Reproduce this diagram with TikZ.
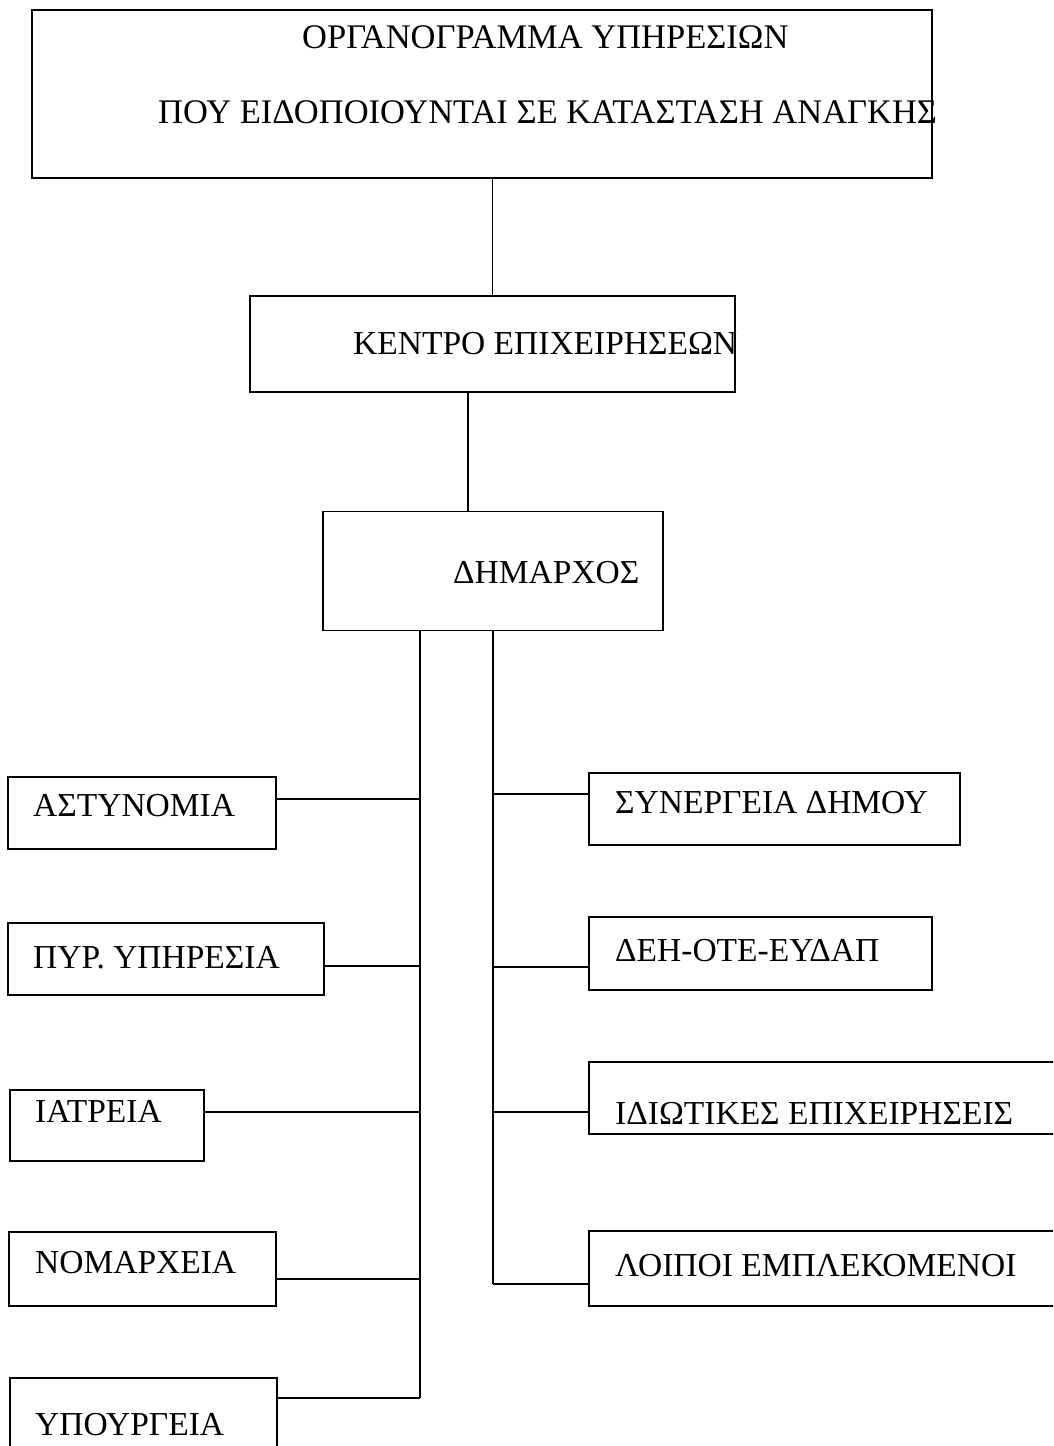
\documentclass[tikz,border=0pt]{standalone}
\usepackage{fontspec}
\setmainfont{Liberation Serif}
\begin{document}
\begin{tikzpicture}[x=1pt,y=-1pt,
  box/.style={draw=black,line width=1.6pt,rectangle,inner sep=0pt},
  lbl/.style={anchor=base west,inner sep=0pt,font=\fontsize{33.5}{40}\selectfont},
  ttl/.style={anchor=base west,inner sep=0pt,font=\fontsize{34.5}{41}\selectfont},
  conn/.style={draw=black,line width=1.6pt}]
\useasboundingbox (0,0) rectangle (1053,1446);
\clip (0,0) rectangle (1053,1446);
\fill[white] (0,0) rectangle (1053,1446);
% boxes
\node[box,minimum width=900,minimum height=168] (title) at (482,94) {};
\node[box,minimum width=485,minimum height=96] (kentro) at (492.5,344) {};
\node[box,minimum width=340,minimum height=119] (dim) at (493,571) {};
\node[box,minimum width=268,minimum height=72] (ast) at (142,813) {};
\node[box,minimum width=316,minimum height=72] (pyr) at (166,959) {};
\node[box,minimum width=194,minimum height=71] (iat) at (107,1125.5) {};
\node[box,minimum width=267,minimum height=74] (nom) at (142.5,1269) {};
\node[box,minimum width=267,minimum height=92] (ypo) at (143.5,1424) {};
\node[box,minimum width=371,minimum height=72] (syn) at (774.5,809) {};
\node[box,minimum width=343,minimum height=73] (deh) at (760.5,953.5) {};
\node[box,minimum width=491,minimum height=72] (idi) at (834.5,1098) {};
\node[box,minimum width=491,minimum height=75] (loi) at (834.5,1268.5) {};
% labels
\node[ttl] (t1) at (302,48) {ΟΡΓΑΝΟΓΡΑΜΜΑ ΥΠΗΡΕΣΙΩΝ};
\node[ttl] (t2) at (158,123) {ΠΟΥ ΕΙΔΟΠΟΙΟΥΝΤΑΙ ΣΕ ΚΑΤΑΣΤΑΣΗ ΑΝΑΓΚΗΣ};
\node[lbl] (tk) at (353,354) {ΚΕΝΤΡΟ ΕΠΙΧΕΙΡΗΣΕΩΝ};
\node[lbl] (td) at (453,583) {ΔΗΜΑΡΧΟΣ};
\node[lbl] (ta) at (33,816) {ΑΣΤΥΝΟΜΙΑ};
\node[lbl] (tp) at (33,968) {ΠΥΡ. ΥΠΗΡΕΣΙΑ};
\node[lbl] (ti) at (35,1122) {ΙΑΤΡΕΙΑ};
\node[lbl] (tn) at (35,1273) {ΝΟΜΑΡΧΕΙΑ};
\node[lbl] (ty) at (35,1435) {ΥΠΟΥΡΓΕΙΑ};
\node[lbl] (ts) at (615,813) {ΣΥΝΕΡΓΕΙΑ ΔΗΜΟΥ};
\node[lbl] (te) at (615,961) {ΔΕΗ-ΟΤΕ-ΕΥΔΑΠ};
\node[lbl] (tid) at (615,1124) {ΙΔΙΩΤΙΚΕΣ ΕΠΙΧΕΙΡΗΣΕΙΣ};
\node[lbl] (tl) at (615,1276) {ΛΟΙΠΟΙ ΕΜΠΛΕΚΟΜΕΝΟΙ};
% connector coordinates
\coordinate (K) at (468,0);
\coordinate (L) at (420,0);
\coordinate (R) at (493,0);
\coordinate (ca) at (0,799);
\coordinate (cp) at (0,966);
\coordinate (ci) at (0,1112);
\coordinate (cn) at (0,1279);
\coordinate (cy) at (0,1398);
\coordinate (cs) at (0,794);
\coordinate (ce) at (0,967);
\coordinate (cd) at (0,1112);
\coordinate (cl) at (0,1284);
% connectors
\draw[conn] (title.south -| kentro.north) -- (kentro.north);
\draw[conn] (kentro.south -| K) -- (dim.north -| K);
\draw[conn] (dim.south -| L) -- (L |- cy);
\draw[conn] (dim.south -| R) -- (R |- cl);
\draw[conn] (ast.east |- ca) -- (L |- ca);
\draw[conn] (pyr.east |- cp) -- (L |- cp);
\draw[conn] (iat.east |- ci) -- (L |- ci);
\draw[conn] (nom.east |- cn) -- (L |- cn);
\draw[conn] (ypo.east |- cy) -- (L |- cy);
\draw[conn] (R |- cs) -- (syn.west |- cs);
\draw[conn] (R |- ce) -- (deh.west |- ce);
\draw[conn] (R |- cd) -- (idi.west |- cd);
\draw[conn] (R |- cl) -- (loi.west |- cl);
\end{tikzpicture}
\end{document}
